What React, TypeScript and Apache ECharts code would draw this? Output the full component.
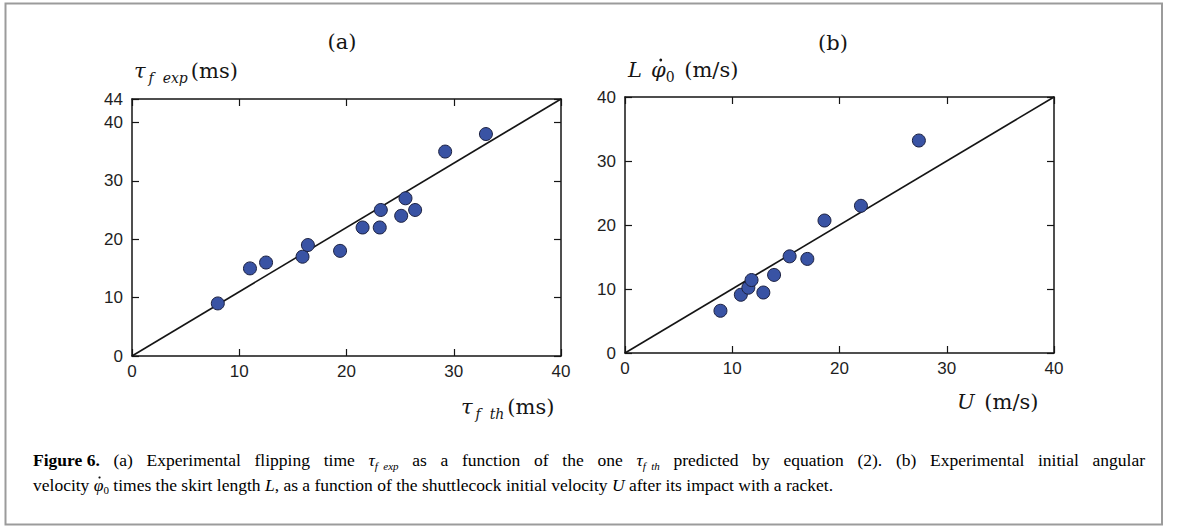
import React, { useEffect, useRef } from "react";
import * as echarts from "echarts";

// Panel (a): predicted vs. experimental flipping time (ms)
const tauTh = [8, 11, 12.5, 15.9, 16.4, 19.4, 21.5, 23.1, 23.2, 25.1, 25.5, 26.4, 29.2, 33];
const tauExp = [9, 15, 16, 17, 19, 18, 22, 22, 25, 24, 27, 25, 35, 38];
const lineAx = [0, 40];
const lineAy = [0, 44];

// Panel (b): U (m/s) vs L*phidot0 (m/s)
const velU = [8.9, 10.8, 11.5, 11.8, 12.9, 13.9, 15.35, 17, 18.6, 22, 27.4];
const lPhi = [6.6, 9.1, 10.2, 11.4, 9.45, 12.2, 15.1, 14.7, 20.7, 23, 33.2];
const lineBx = [0, 40];
const lineBy = [0, 40];

const axisMaxA = { x: 40, y: 44 };
const axisMaxB = { x: 40, y: 40 };
const tickStep = 10;

// Caption text segments: [style, text]
const captionLine1: [string, string][] = [
  ["b", "Figure 6."],
  ["n", " (a) Experimental flipping time "],
  ["it", "τ"],
  ["sub", "f  exp"],
  ["n", " as a function of the one "],
  ["it", "τ"],
  ["sub", "f  th"],
  ["n", " predicted by equation ("],
  ["ref", "2"],
  ["n", "). (b) Experimental initial angular"],
];
const captionLine2: [string, string][] = [
  ["n", "velocity "],
  ["it", "φ"],
  ["sub0", "0"],
  ["n", " times the skirt length "],
  ["it", "L"],
  ["n", ", as a function of the shuttlecock initial velocity "],
  ["it", "U"],
  ["n", " after its impact with a racket."],
];

const SERIF = "'Liberation Serif', serif";
const MATH = "'DejaVu Serif', serif";
const SANS = "'Liberation Sans', Arial, sans-serif";
const INK = "#151515";
const CAP_SIZE = 17.5;
const MATH_SIZE = 21;

let measureCtx: CanvasRenderingContext2D | null = null;
function mw(text: string, font: string) {
  if (!measureCtx) measureCtx = document.createElement("canvas").getContext("2d");
  if (!measureCtx) return text.length * 8;
  measureCtx.font = font;
  return measureCtx.measureText(text).width;
}

function zip(a: number[], b: number[]) {
  return a.map((v, i) => [v, b[i]]);
}

function axesFor(gridIndex: number, maxX: number, maxY: number) {
  const line = { show: true, onZero: false, lineStyle: { color: INK, width: 1.5 } };
  const tick = { show: true, inside: true, length: 7, lineStyle: { color: INK, width: 1.2 } };
  const label = { fontFamily: SANS, fontSize: 17, color: "#1e1e1e" };
  const xs = [
    {
      type: "value", gridIndex, min: 0, max: maxX, interval: tickStep, position: "bottom",
      axisLine: line, axisTick: tick, splitLine: { show: false },
      axisLabel: { ...label, margin: 7 },
    },
    {
      type: "value", gridIndex, min: 0, max: maxX, interval: tickStep, position: "top",
      axisLine: line, axisTick: tick, splitLine: { show: false }, axisLabel: { show: false },
    },
  ];
  const ys = [
    {
      type: "value", gridIndex, min: 0, max: maxY, interval: tickStep, position: "left",
      axisLine: line, axisTick: tick, splitLine: { show: false },
      axisLabel: { ...label, margin: 9 },
    },
    {
      type: "value", gridIndex, min: 0, max: maxY, interval: tickStep, position: "right",
      axisLine: line, axisTick: tick, splitLine: { show: false }, axisLabel: { show: false },
    },
  ];
  return { xs, ys };
}

const PHI_GAP = 9;
const mathRich = {
  it: { fontFamily: MATH, fontStyle: "italic", fontSize: MATH_SIZE, color: INK, lineHeight: 28, verticalAlign: "middle" },
  itp: { fontFamily: MATH, fontStyle: "italic", fontSize: MATH_SIZE, color: INK, lineHeight: 28, verticalAlign: "middle", padding: [0, 0, 0, PHI_GAP] },
  rm: { fontFamily: MATH, fontSize: MATH_SIZE, color: INK, lineHeight: 28, verticalAlign: "middle" },
  rmw: { fontFamily: MATH, fontSize: MATH_SIZE, color: INK, lineHeight: 28, verticalAlign: "middle", padding: [0, 0, 0, 3] },
  sub: { fontFamily: MATH, fontStyle: "italic", fontSize: 14, color: INK, lineHeight: 16, verticalAlign: "bottom", padding: [0, 3, 0, 3] },
  sub0: { fontFamily: MATH, fontSize: 14, color: INK, lineHeight: 16, verticalAlign: "bottom" },
};

const capFonts: Record<string, string> = {
  b: `bold ${CAP_SIZE}px ${SERIF}`,
  n: `${CAP_SIZE}px ${SERIF}`,
  it: `italic ${CAP_SIZE}px ${SERIF}`,
  ref: `${CAP_SIZE}px ${SERIF}`,
  sub: `italic 11px ${SERIF}`,
  sub0: `11px ${SERIF}`,
};

function capRich(spaceWidth?: number) {
  const base = { fontFamily: SERIF, fontSize: CAP_SIZE, color: "#111", lineHeight: 22, verticalAlign: "middle" };
  const r: any = {
    b: { ...base, fontWeight: "bold" },
    n: { ...base },
    it: { ...base, fontStyle: "italic" },
    ref: { ...base, color: "#2a8ccf" },
    sub: { fontFamily: SERIF, fontStyle: "italic", fontSize: 11, color: "#111", lineHeight: 13, verticalAlign: "bottom" },
    sub0: { fontFamily: SERIF, fontSize: 11, color: "#111", lineHeight: 13, verticalAlign: "bottom" },
  };
  if (spaceWidth !== undefined) r.sp = { ...base, width: spaceWidth };
  return r;
}

// Build a justified rich string for a caption line
function justified(segs: [string, string][], target: number) {
  let sum = 0;
  let nSpaces = 0;
  const parts: string[] = [];
  segs.forEach(([k, t]) => {
    if (k === "n") {
      const pieces = t.split(" ");
      pieces.forEach((p, i) => {
        if (i > 0) {
          parts.push("{sp| }");
          nSpaces++;
        }
        if (p.length) {
          parts.push(`{${k}|${p}}`);
          sum += mw(p, capFonts[k]);
        }
      });
    } else {
      parts.push(`{${k}|${t}}`);
      sum += mw(t, capFonts[k]);
    }
  });
  const w = nSpaces ? (target - sum) / nSpaces : 0;
  return { text: parts.join(""), spaceWidth: w };
}

function mathText(x: number, y: number, text: string, align = "left") {
  return {
    type: "text", x, y,
    style: { text, rich: mathRich, align, verticalAlign: "middle", fontFamily: MATH, fontSize: MATH_SIZE, fill: INK },
  };
}

export default function App() {
  const ref = useRef<HTMLDivElement>(null);
  useEffect(() => {
    if (!ref.current) return;
    const chart = echarts.init(ref.current, undefined, { renderer: "svg" });
    const a = axesFor(0, axisMaxA.x, axisMaxA.y);
    const b = axesFor(1, axisMaxB.x, axisMaxB.y);
    const dot = { color: "#3953a4", borderColor: "#1c2140", borderWidth: 1, opacity: 1 };

    const capX = 33;
    const line1 = justified(captionLine1, 1112);
    const line2Text = captionLine2.map(([k, t]) => `{${k}|${t}}`).join("");
    const line1Y = 460;
    const line2Y = 484.5;
    const phiCapX = capX + mw("velocity ", capFonts.n) + mw("φ", capFonts.it) * 0.6;

    // y title of panel (b)
    const tbX = 628;
    const tbY = 70;
    const itMath = `italic ${MATH_SIZE}px ${MATH}`;
    const phiTitleX = tbX + mw("L", itMath) + PHI_GAP + mw("φ", itMath) * 0.6;

    chart.setOption({
      animation: false,
      backgroundColor: "#ffffff",
      grid: [
        { left: 132, top: 99, width: 429, height: 257 },
        { left: 625, top: 97, width: 429, height: 256 },
      ],
      xAxis: [a.xs[0], a.xs[1], b.xs[0], b.xs[1]],
      yAxis: [a.ys[0], a.ys[1], b.ys[0], b.ys[1]],
      series: [
        {
          type: "line", xAxisIndex: 0, yAxisIndex: 0, data: zip(lineAx, lineAy),
          symbol: "none", lineStyle: { color: INK, width: 1.6 }, z: 2, silent: true,
        },
        {
          type: "scatter", xAxisIndex: 0, yAxisIndex: 0, data: zip(tauTh, tauExp),
          symbolSize: 13, itemStyle: dot, z: 3,
        },
        {
          type: "line", xAxisIndex: 2, yAxisIndex: 2, data: zip(lineBx, lineBy),
          symbol: "none", lineStyle: { color: INK, width: 1.6 }, z: 2, silent: true,
        },
        {
          type: "scatter", xAxisIndex: 2, yAxisIndex: 2, data: zip(velU, lPhi),
          symbolSize: 13, itemStyle: dot, z: 3,
        },
      ],
      graphic: [
        {
          type: "rect", shape: { x: 5.5, y: 3.5, width: 1156.5, height: 521 },
          style: { fill: "none", stroke: "#9b9b9b", lineWidth: 2 }, z: 0,
        },
        mathText(342, 42, "{rm|(a)}", "center"),
        mathText(833, 43, "{rm|(b)}", "center"),
        mathText(134, 71, "{it|τ}{sub|f  exp}{rm|(ms)}"),
        mathText(461, 407, "{it|τ}{sub|f  th}{rm|(ms)}"),
        mathText(tbX, tbY, "{it|L}{itp|φ}{sub0|0}{rmw| (m/s)}"),
        { type: "circle", shape: { cx: phiTitleX + 1, cy: tbY - 10, r: 1.4 }, style: { fill: INK } },
        mathText(957, 402, "{it|U}{rmw| (m/s)}"),
        {
          type: "text", x: capX, y: line1Y,
          style: { text: line1.text, rich: capRich(line1.spaceWidth), align: "left", verticalAlign: "middle" },
        },
        {
          type: "text", x: capX, y: line2Y,
          style: { text: line2Text, rich: capRich(), align: "left", verticalAlign: "middle" },
        },
        { type: "circle", shape: { cx: phiCapX, cy: line2Y - 7, r: 1.1 }, style: { fill: "#111" } },
      ],
    });
    return () => chart.dispose();
  }, []);
  return (
    <div
      ref={ref}
      style={{ position: "fixed", left: 0, top: 0, width: 1179, height: 526, background: "#fff" }}
    />
  );
}
